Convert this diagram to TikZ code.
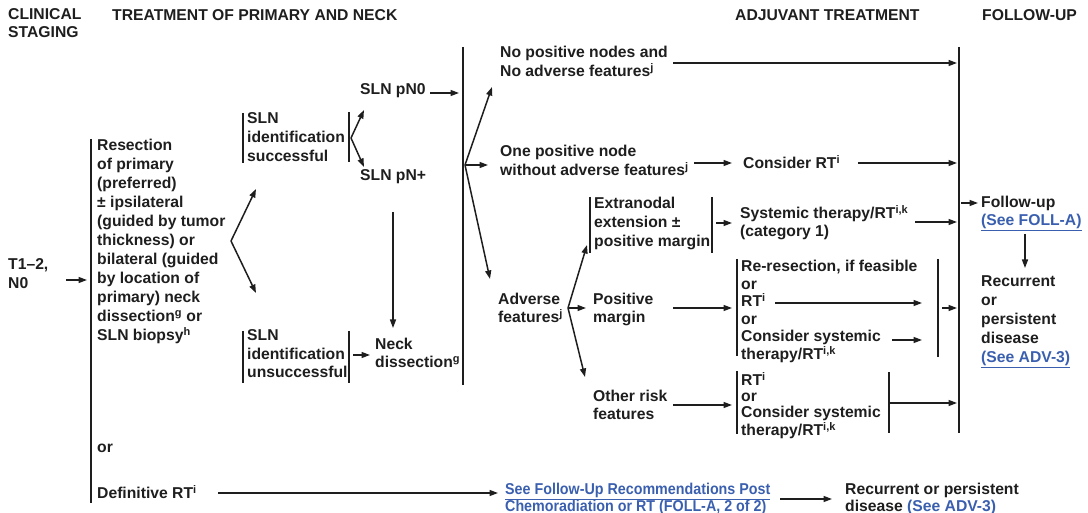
\documentclass[tikz,border=0pt]{standalone}
\usepackage{fontspec}
\setmainfont{Liberation Sans}
\newfontfamily\condfont{Liberation Sans}[FakeStretch=0.91]
\usetikzlibrary{arrows.meta}
\definecolor{ink}{RGB}{30,30,30}
\definecolor{linkblue}{RGB}{58,95,175}
\newcommand{\lnk}[1]{\textcolor{linkblue}{\underline{#1}}}
\newcommand{\sps}[1]{\textsuperscript{#1}}
\begin{document}
\begin{tikzpicture}[x=1pt,y=-1pt,
  t/.style={anchor=north west, inner sep=0pt, align=left, text=ink,
    font=\fontsize{15.7}{#1}\selectfont\bfseries, yshift=0.7*#1pt-5.6pt,
    execute at begin node=\strut},
  t/.default=19,
  bar/.style={draw=ink, line width=1.6pt},
  arr/.style={draw=ink, line width=1.5pt, -{Triangle[length=8.5pt,width=6pt]}}]
\useasboundingbox (0,0) rectangle (1088,513);

% headers
\node[t=18] (hclin) at (8,15) {CLINICAL\\STAGING};
\node[t] (htreat) at (112,15) {TREATMENT OF PRIMARY AND NECK};
\node[t] (hadj) at (735,15) {ADJUVANT TREATMENT};
\node[t] (hfol) at (982,15) {FOLLOW-UP};

% left
\node[t] (stage) at (8,266) {T1–2,\\N0};
\node[t] (resect) at (97,147) {Resection\\of primary\\(preferred)\\± ipsilateral\\(guided by tumor\\thickness) or\\bilateral (guided\\by location of\\primary) neck\\dissection\sps{g} or\\SLN biopsy\sps{h}};
\node[t] (or1) at (97,447) {or};
\node[t] (defrt) at (97,493) {Definitive RT\sps{i}};
\draw[bar] (91,139) -- (91,503);
\coordinate (stA) at (66,280); \coordinate (stB) at (87,280);
\draw[arr] (stA) -- (stB);

% fork from resection
\coordinate (fkR) at (231,241);
\coordinate (fkRu) at (256,189);
\coordinate (fkRd) at (256,293);
\draw[arr] (fkR) -- (fkRu);
\draw[arr] (fkR) -- (fkRd);

% SLN successful
\node[t] (slnS) at (247,120) {SLN\\identification\\successful};
\draw[bar] (243,113) -- (243,163);
\draw[bar] (349,112) -- (349,162);
\coordinate (fkS) at (351,138);
\coordinate (fkSu) at (364,110);
\coordinate (fkSd) at (364,167);
\draw[arr] (fkS) -- (fkSu);
\draw[arr] (fkS) -- (fkSd);

\node[t] (pn0) at (360,89) {SLN pN0};
\coordinate (pn0a) at (430,93); \coordinate (pn0b) at (459,93);
\draw[arr] (pn0a) -- (pn0b);
\node[t] (pnp) at (360,175) {SLN pN+};
\coordinate (pnpa) at (393,212); \coordinate (pnpb) at (393,328);
\draw[arr] (pnpa) -- (pnpb);

% SLN unsuccessful
\node[t=18.5] (slnU) at (247,337) {SLN\\identification\\unsuccessful};
\draw[bar] (243,331) -- (243,383);
\draw[bar] (349,331) -- (349,383);
\coordinate (slnUa) at (353,355); \coordinate (slnUb) at (370,355);
\draw[arr] (slnUa) -- (slnUb);
\node[t=18] (neck) at (375,345) {Neck\\dissection\sps{g}};

% big bar
\draw[bar] (463,47) -- (463,385);
\coordinate (fkB) at (465,165);
\coordinate (fkBu) at (492,87);
\coordinate (fkBr) at (488,165);
\coordinate (fkBd) at (490,279);
\draw[arr] (fkB) -- (fkBu);
\draw[arr] (fkB) -- (fkBr);
\draw[arr] (fkB) -- (fkBd);

\node[t] (nopos) at (500,54) {No positive nodes and\\No adverse features\sps{j}};
\coordinate (noposa) at (673,63); \coordinate (noposb) at (957,63);
\draw[arr] (noposa) -- (noposb);

\node[t] (onepos) at (500,153) {One positive node\\without adverse features\sps{j}};
\coordinate (oneposa) at (694,163); \coordinate (oneposb) at (732,163);
\draw[arr] (oneposa) -- (oneposb);
\node[t] (conrt) at (743,163) {Consider RT\sps{i}};
\coordinate (conrta) at (858,163); \coordinate (conrtb) at (957,163);
\draw[arr] (conrta) -- (conrtb);

% extranodal
\node[t] (extra) at (594,205) {Extranodal\\extension ±\\positive margin};
\draw[bar] (590,197) -- (590,253);
\draw[bar] (712,197) -- (712,253);
\coordinate (extraa) at (716,223); \coordinate (extrab) at (732,223);
\draw[arr] (extraa) -- (extrab);
\node[t=18] (syst) at (740,212) {Systemic therapy/RT\sps{i,k}\\(category 1)};
\coordinate (systa) at (915,222); \coordinate (systb) at (957,222);
\draw[arr] (systa) -- (systb);

% adverse
\node[t=18] (adv) at (498,300) {Adverse\\features\sps{j}};
\coordinate (fkA) at (568,308);
\coordinate (fkAu) at (587,245);
\coordinate (fkAr) at (586,308);
\coordinate (fkAd) at (585,377);
\draw[arr] (fkA) -- (fkAu);
\draw[arr] (fkA) -- (fkAr);
\draw[arr] (fkA) -- (fkAd);

\node[t=18] (posm) at (593,300) {Positive\\margin};
\coordinate (posma) at (673,308); \coordinate (posmb) at (732,308);
\draw[arr] (posma) -- (posmb);
\node[t=18] (other) at (593,397) {Other risk\\features};
\coordinate (othera) at (673,405); \coordinate (otherb) at (732,405);
\draw[arr] (othera) -- (otherb);

% re-resection block
\node[t=17.5] (reres) at (741,267) {Re-resection, if feasible\\or\\RT\sps{i}\\or\\Consider systemic\\therapy/RT\sps{i,k}};
\draw[bar] (737,259) -- (737,356);
\draw[bar] (938,259) -- (938,357);
\coordinate (rtA) at (775,303); \coordinate (rtB) at (922,303);
\draw[arr] (rtA) -- (rtB);
\coordinate (csA) at (892,340); \coordinate (csB) at (922,340);
\draw[arr] (csA) -- (csB);
\coordinate (rerA) at (942,308); \coordinate (rerB) at (957,308);
\draw[arr] (rerA) -- (rerB);

% RT block
\node[t=16] (rtblk) at (741,378) {RT\sps{i}\\or\\Consider systemic\\therapy/RT\sps{i,k}};
\draw[bar] (737,371) -- (737,434);
\draw[bar] (889,372) -- (889,433);
\coordinate (rtbA) at (890,403); \coordinate (rtbB) at (957,403);
\draw[arr] (rtbA) -- (rtbB);

% follow-up column
\draw[bar] (959,47) -- (959,433);
\coordinate (fuA) at (961,203); \coordinate (fuB) at (978,203);
\draw[arr] (fuA) -- (fuB);
\node[t=18] (fu) at (981,203) {Follow-up\\\lnk{(See FOLL-A)}};
\coordinate (fuD1) at (1025,234); \coordinate (fuD2) at (1025,268);
\draw[arr] (fuD1) -- (fuD2);
\node[t] (recur) at (981,283) {Recurrent\\or\\persistent\\disease\\\lnk{(See ADV-3)}};

% bottom row
\coordinate (defA) at (218,493); \coordinate (defB) at (498,493);
\draw[arr] (defA) -- (defB);
\node[t=17, font=\condfont\fontsize{15.7}{17}\selectfont\bfseries] (foll2) at (505,489) {\lnk{See Follow-Up Recommendations Post}\\\lnk{Chemoradiation or RT (FOLL-A, 2 of 2)}};
\coordinate (f2A) at (780,499); \coordinate (f2B) at (832,499);
\draw[arr] (f2A) -- (f2B);
\node[t=17] (recur2) at (845,489) {Recurrent or persistent\\disease \lnk{(See ADV-3)}};
\end{tikzpicture}
\end{document}
